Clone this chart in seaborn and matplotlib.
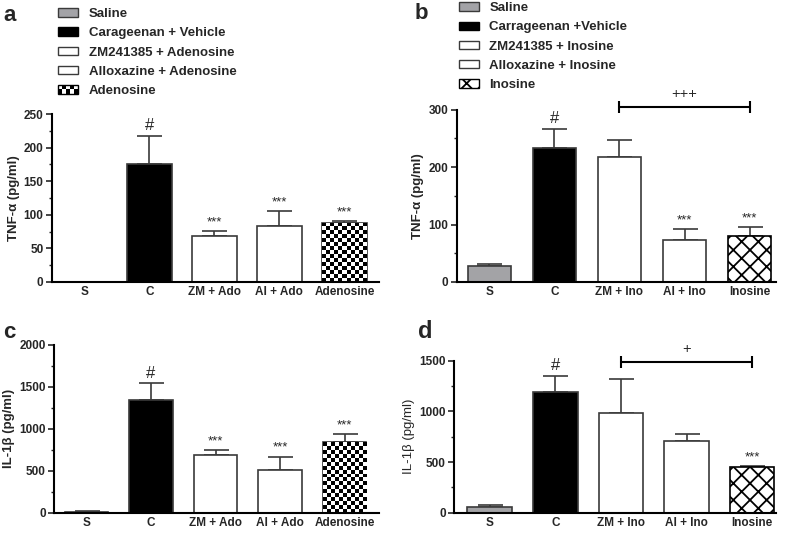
import numpy as np
import pandas as pd
import matplotlib
matplotlib.use("Agg")
import matplotlib.pyplot as plt
import seaborn as sns
from matplotlib.patches import Patch, Rectangle
from matplotlib.legend_handler import HandlerBase
from matplotlib.ticker import MultipleLocator

# data
groups_ado = ["S", "C", "ZM + Ado", "Al + Ado", "Adenosine"]
groups_ino = ["S", "C", "ZM + Ino", "Al + Ino", "Inosine"]
legend_ado = ["Saline", "Carageenan + Vehicle", "ZM241385 + Adenosine", "Alloxazine + Adenosine", "Adenosine"]
legend_ino = ["Saline", "Carrageenan +Vehicle", "ZM241385 + Inosine", "Alloxazine + Inosine", "Inosine"]

tnf_ado = [0, 175, 69, 84, 88]
tnf_ado_err = [0, 42, 7, 21, 3]
tnf_ino = [27, 233, 218, 73, 80]
tnf_ino_err = [5, 34, 30, 19, 15]
il_ado = [12, 1349, 686, 511, 838]
il_ado_err = [5, 191, 59, 159, 102]
il_ino = [58, 1197, 981, 710, 452]
il_ino_err = [16, 151, 342, 67, 6]

marks_a = ["", "#", "***", "***", "***"]
marks_b = ["", "#", "", "***", "***"]
marks_c = ["", "#", "***", "***", "***"]
marks_d = ["", "#", "", "", "***"]

colors = ["#a3a3a7", "#000000", "#ffffff", "#ffffff", "#ffffff"]
edge = "#3a3a3a"

sns.set_style("ticks")
plt.rcParams["font.family"] = ["Liberation Sans", "DejaVu Sans"]
plt.rcParams["font.weight"] = "bold"
plt.rcParams["hatch.linewidth"] = 1.3
plt.rcParams["hatch.color"] = "black"

fig = plt.figure(figsize=(7.86, 5.33), dpi=100)


def checker(ax, patch, cell=4.0):
    x0, y0 = patch.get_x(), patch.get_y()
    w, h = patch.get_width(), patch.get_height()
    (px0, py0), (px1, py1) = ax.transData.transform([(x0, y0), (x0 + w, y0 + h)])
    nx = max(1, int(round((px1 - px0) / cell)))
    ny = max(1, int(round((py1 - py0) / cell)))
    board = np.add.outer(np.arange(ny), np.arange(nx)) % 2
    im = ax.imshow(board, cmap="gray", extent=(x0, x0 + w, y0, y0 + h), aspect="auto",
                   interpolation="nearest", zorder=patch.get_zorder() + 0.1)
    im.set_clip_path(patch)


class CheckerHandler(HandlerBase):
    def create_artists(self, legend, orig, xd, yd, w, h, fontsize, trans):
        arts = [Rectangle((-xd, -yd), w, h, fc="white", ec="black", lw=1, transform=trans)]
        nx, ny = 5, 2
        cw, ch = w / nx, h / ny
        for i in range(nx):
            for j in range(ny):
                if (i + j) % 2 == 0:
                    arts.append(Rectangle((-xd + i * cw, -yd + j * ch), cw, ch, fc="black", ec="none",
                                          transform=trans))
        return arts


def panel(rect, cats, vals, errs, marks, ylim, major, minor, xlim, width, ylabel, last, label_weight="bold"):
    ax = fig.add_axes(rect)
    df = pd.DataFrame({"group": cats, "value": vals})
    sns.barplot(data=df, x="group", y="value", hue="group", palette=colors, legend=False,
                width=width, edgecolor=edge, linewidth=1.2, ax=ax, zorder=2)
    ax.set_xlim(*xlim)
    ax.set_ylim(*ylim)
    ax.errorbar(range(len(cats)), vals, yerr=[np.zeros(len(errs)), errs], fmt="none",
                ecolor=edge, elinewidth=1.2, capsize=9, capthick=1.2, zorder=1)
    for i, p in enumerate(ax.patches[:len(cats)]):
        if last == "checker" and i == 4:
            checker(ax, p)
        if last == "cross" and i == 4:
            p.set_hatch("xx")
            p.set_edgecolor("black")
    for i, m in enumerate(marks):
        if m:
            ax.annotate(m, (i, vals[i] + errs[i]), xytext=(0, 2), textcoords="offset points",
                        ha="center", va="bottom", fontsize=12 if m == "#" else 9.5, fontweight="normal")
    sns.despine(ax=ax)
    for s in ["left", "bottom"]:
        ax.spines[s].set_linewidth(1.5)
        ax.spines[s].set_color("black")
    ax.yaxis.set_major_locator(MultipleLocator(major))
    ax.yaxis.set_minor_locator(MultipleLocator(minor))
    ax.tick_params(axis="both", which="major", length=4, width=1.2, labelsize=8.5, pad=2)
    ax.tick_params(axis="y", which="minor", length=2.5, width=1)
    ax.tick_params(axis="x", length=0, pad=3)
    ax.set_xlabel("")
    ax.set_ylabel(ylabel, fontsize=9.5, fontweight=label_weight, labelpad=3)
    return ax


ax_a = panel([0.066, 0.471, 0.416, 0.315], groups_ado, tnf_ado, tnf_ado_err, marks_a,
             (0, 250), 50, 25, (-0.5, 4.53), 0.69, "TNF-α (pg/ml)", "checker")
ax_b = panel([0.581, 0.471, 0.406, 0.323], groups_ino, tnf_ino, tnf_ino_err, marks_b,
             (0, 300), 100, 50, (-0.5, 4.4), 0.66, "TNF-α (pg/ml)", "cross")
ax_c = panel([0.069, 0.038, 0.413, 0.315], groups_ado, il_ado, il_ado_err, marks_c,
             (0, 2000), 500, 250, (-0.5, 4.53), 0.67, "IL-1β (pg/ml)", "checker")
ax_d = panel([0.578, 0.038, 0.409, 0.285], groups_ino, il_ino, il_ino_err, marks_d,
             (0, 1500), 500, 250, (-0.54, 4.36), 0.68, "IL-1β (pg/ml)", "cross", "normal")


def bracket(ax, i0, i1, y, text):
    ax.plot([i0, i1], [y, y], color="black", lw=1.5, clip_on=False)
    ax.plot([i0, i1], [y, y], color="black", lw=0, marker="|", markersize=8, mew=1.5, clip_on=False)
    ax.annotate(text, ((i0 + i1) / 2, y), xytext=(0, 4), textcoords="offset points",
                ha="center", va="bottom", fontsize=10.5, fontweight="normal", annotation_clip=False)


bracket(ax_b, 2, 4, 305, "+++")
bracket(ax_d, 2, 4, 1490, "+")

# legends
def make_handles(last):
    hs = [Patch(fc=colors[0], ec=edge, lw=1), Patch(fc=colors[1], ec="black", lw=1),
          Patch(fc="white", ec=edge, lw=1), Patch(fc="white", ec=edge, lw=1)]
    if last == "cross":
        hs.append(Patch(fc="white", ec="black", lw=1, hatch="xx"))
    else:
        hs.append(Patch(fc="white", ec="black", lw=1))
    return hs


leg_kw = dict(frameon=False, fontsize=9.5, handlelength=1.5, handleheight=0.6, handletextpad=0.8,
              labelspacing=0.55, borderaxespad=0, borderpad=0, loc="upper left")
ha = make_handles("checker")
fig.legend(ha, legend_ado, bbox_to_anchor=(0.074, 0.985), handler_map={ha[4]: CheckerHandler()}, **leg_kw)
fig.legend(make_handles("cross"), legend_ino, bbox_to_anchor=(0.584, 0.996), **leg_kw)

fig.text(0.004, 0.99, "a", fontsize=16, fontweight="bold", va="top")
fig.text(0.527, 0.995, "b", fontsize=16, fontweight="bold", va="top")
fig.text(0.004, 0.395, "c", fontsize=16, fontweight="bold", va="top")
fig.text(0.532, 0.40, "d", fontsize=17, fontweight="bold", va="top")

fig.savefig("out.png", dpi=100)
